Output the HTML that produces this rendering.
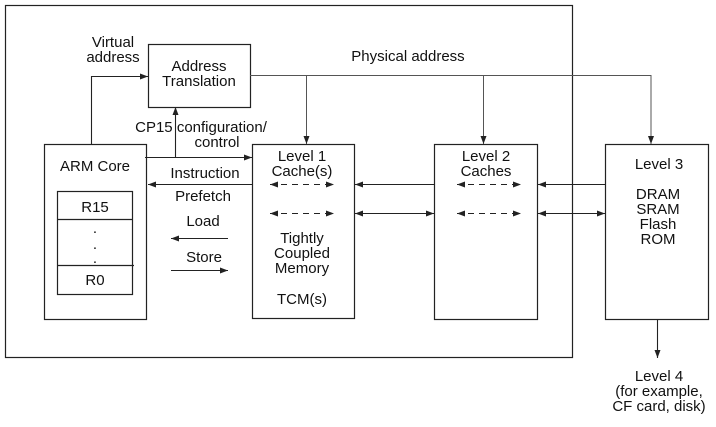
<!DOCTYPE html>
<html><head><style>
body{margin:0;background:#fff}
text{font-family:"Liberation Sans",sans-serif;font-size:15px;fill:#111}
</style></head><body>
<svg width="716" height="422" viewBox="0 0 716 422" xmlns="http://www.w3.org/2000/svg">
<defs>
<marker id="a" markerWidth="8" markerHeight="6" refX="8" refY="3" orient="auto" markerUnits="userSpaceOnUse"><path d="M0,0L8,3L0,6z" fill="#222"/></marker>
<marker id="s" markerWidth="8" markerHeight="6" refX="0" refY="3" orient="auto" markerUnits="userSpaceOnUse"><path d="M8,0L0,3L8,6z" fill="#222"/></marker>
</defs>
<g fill="none" stroke="#222" stroke-width="1.2">
<rect x="5.5" y="5.5" width="567" height="352"/>
<rect x="148.5" y="44.5" width="102" height="63"/>
<rect x="44.5" y="144.5" width="102" height="175"/>
<rect x="57.5" y="191.5" width="75" height="103"/>
<line x1="57" y1="219.5" x2="132" y2="219.5"/>
<line x1="57" y1="265.5" x2="134" y2="265.5"/>
<rect x="252.5" y="144.5" width="102" height="174"/>
<rect x="434.5" y="144.5" width="103" height="175"/>
<rect x="605.5" y="144.5" width="103" height="175"/>
</g>
<g fill="none" stroke="#555" stroke-width="1">
<line x1="250" y1="75.5" x2="651" y2="75.5"/>
<line x1="306.5" y1="75" x2="306.5" y2="144" marker-end="url(#a)"/>
<line x1="483.5" y1="75" x2="483.5" y2="144" marker-end="url(#a)"/>
<line x1="651" y1="75" x2="651" y2="144" marker-end="url(#a)"/>
</g>
<g fill="none" stroke="#222" stroke-width="1.1">
<polyline points="91.5,144 91.5,76.5 148,76.5" marker-end="url(#a)"/>
<line x1="175.5" y1="157" x2="175.5" y2="107" marker-end="url(#a)"/>
<line x1="145" y1="157.5" x2="252" y2="157.5" marker-end="url(#a)"/>
<line x1="252" y1="184.5" x2="148" y2="184.5" marker-end="url(#a)"/>
<line x1="228" y1="238.5" x2="171" y2="238.5" marker-end="url(#a)"/>
<line x1="171" y1="270.5" x2="228" y2="270.5" marker-end="url(#a)"/>
<line x1="434" y1="184.5" x2="355" y2="184.5" marker-end="url(#a)"/>
<line x1="355" y1="213.5" x2="434" y2="213.5" marker-start="url(#s)" marker-end="url(#a)"/>
<line x1="605" y1="184.5" x2="538" y2="184.5" marker-end="url(#a)"/>
<line x1="538" y1="213.5" x2="605" y2="213.5" marker-start="url(#s)" marker-end="url(#a)"/>
<line x1="657.5" y1="319" x2="657.5" y2="358" marker-end="url(#a)"/>
<g stroke-dasharray="6,5">
<line x1="270" y1="184.5" x2="334" y2="184.5" marker-start="url(#s)" marker-end="url(#a)"/>
<line x1="270" y1="213.5" x2="334" y2="213.5" marker-start="url(#s)" marker-end="url(#a)"/>
<line x1="457" y1="184.5" x2="521" y2="184.5" marker-start="url(#s)" marker-end="url(#a)"/>
<line x1="457" y1="213.5" x2="521" y2="213.5" marker-start="url(#s)" marker-end="url(#a)"/>
</g>
</g>
<g text-anchor="middle">
<text x="113" y="47">Virtual</text><text x="113" y="62">address</text>
<text x="199" y="71">Address</text><text x="199" y="86">Translation</text>
<text x="408" y="61">Physical address</text>
<text x="201" y="132">CP15 configuration/</text><text x="217" y="147">control</text>
<text x="95" y="171">ARM Core</text>
<text x="95" y="212">R15</text>
<text x="95" y="233">.</text><text x="95" y="249">.</text><text x="95" y="263">.</text>
<text x="95" y="285">R0</text>
<text x="205" y="178">Instruction</text>
<text x="203" y="201">Prefetch</text>
<text x="203" y="226">Load</text>
<text x="204" y="262">Store</text>
<text x="302" y="161">Level 1</text><text x="302" y="176">Cache(s)</text>
<text x="302" y="243">Tightly</text><text x="302" y="258">Coupled</text><text x="302" y="273">Memory</text>
<text x="302" y="304">TCM(s)</text>
<text x="486" y="161">Level 2</text><text x="486" y="176">Caches</text>
<text x="659" y="169">Level 3</text>
<text x="658" y="199">DRAM</text><text x="658" y="214">SRAM</text><text x="658" y="229">Flash</text><text x="658" y="244">ROM</text>
<text x="659" y="381">Level 4</text><text x="659" y="396">(for example,</text><text x="659" y="411">CF card, disk)</text>
</g>
</svg>
</body></html>
